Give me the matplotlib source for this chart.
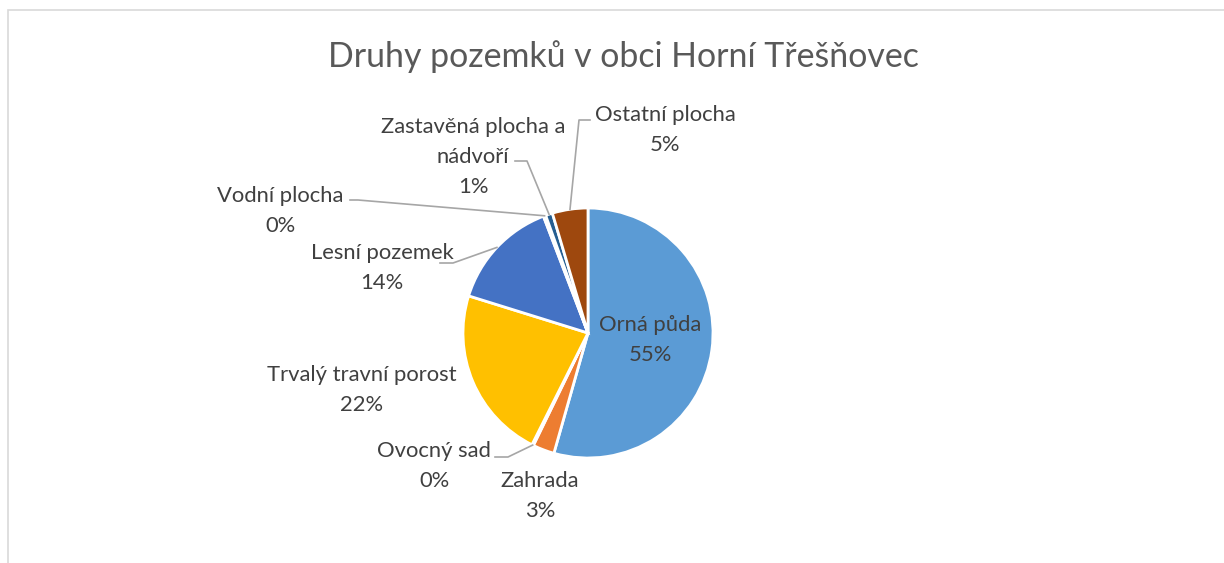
import numpy as np
import matplotlib
matplotlib.use("Agg")
import matplotlib.pyplot as plt
from matplotlib.patches import Rectangle

plt.rcParams['font.family'] = ['Lato', 'DejaVu Sans']

# data
categories = ["Orná půda", "Zahrada", "Ovocný sad", "Trvalý travní porost",
              "Lesní pozemek", "Vodní plocha", "Zastavěná plocha a\nnádvoří",
              "Ostatní plocha"]
shares = [54.4, 2.8, 0.2, 22.4, 14.4, 0.3, 0.9, 4.6]
pct_labels = ["55%", "3%", "0%", "22%", "14%", "0%", "1%", "5%"]
colors = ["#5B9BD5", "#ED7D31", "#A5A5A5", "#FFC000",
          "#4472C4", "#70AD47", "#255E91", "#9E480E"]

W, H = 1224, 563
fig = plt.figure(figsize=(W / 100, H / 100), dpi=100)
ax = fig.add_axes([0, 0, 1, 1])

# chart frame (only top and left edges are visible in the crop)
fig.patches.append(Rectangle((8 / W, -0.1), 1.2, (H - 10) / H + 0.1,
                             transform=fig.transFigure, fill=False,
                             edgecolor="#D9D9D9", linewidth=1.2))

cx, cy, R = 588, H - 333, 125
wedges, _ = ax.pie(shares, colors=colors, startangle=90, counterclock=False,
                   center=(cx, cy), radius=R, frame=True,
                   explode=[0.015] * len(shares),
                   wedgeprops=dict(edgecolor="white", linewidth=2))
ax.set_xlim(0, W)
ax.set_ylim(0, H)
ax.axis('off')

ax.text(623, H - 57, "Druhy pozemků v obci Horní Třešňovec", ha="center",
        va="center", fontsize=24.4, color="#595959")

# label centres (pixel coords, y from top) and leader line starts
label_pos = [(650, 340), (540, 496), (434, 466), (362, 390),
             (382, 268), (280, 211), (473, 157), (665, 130)]
leaders = {2: [(495, 457), (508, 457)],
           4: [(440, 263), (453, 263)],
           5: [(350, 200), (358, 200)],
           6: [(515, 161), (527, 161)],
           7: [(590, 120), (579, 120)]}

for i, (name, pct) in enumerate(zip(categories, pct_labels)):
    x, y = label_pos[i]
    ax.text(x, H - y, f"{name}\n{pct}", ha="center", va="center",
            fontsize=15.8, color="#404040", linespacing=1.62)
    if i in leaders:
        w = wedges[i]
        ang = np.deg2rad((w.theta1 + w.theta2) / 2)
        ex, ey = w.center[0] + R * np.cos(ang), w.center[1] + R * np.sin(ang)
        pts = leaders[i]
        xs = [p[0] for p in pts] + [ex]
        ys = [H - p[1] for p in pts] + [ey]
        ax.plot(xs, ys, color="#A6A6A6", linewidth=1.2)

fig.savefig("out.png", dpi=100)
